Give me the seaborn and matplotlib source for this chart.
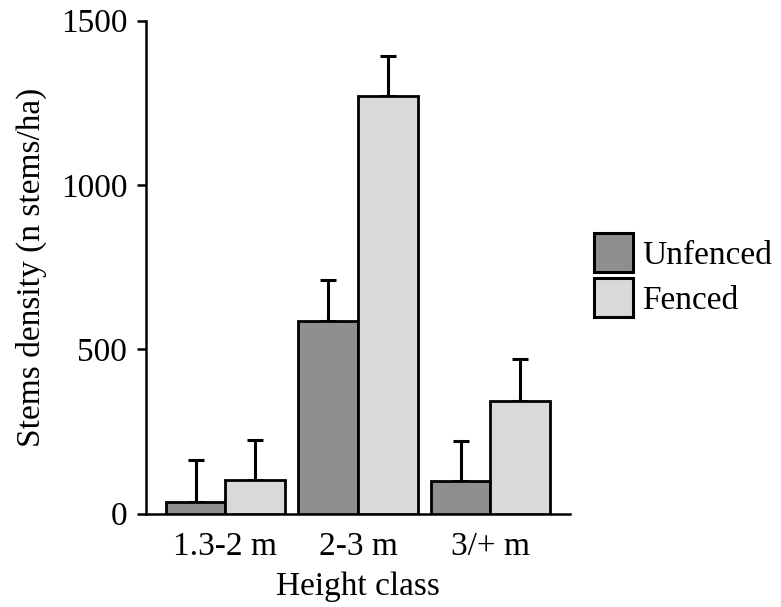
import matplotlib
matplotlib.use("Agg")
import matplotlib.pyplot as plt
import seaborn as sns
import pandas as pd
import numpy as np

categories = ["1.3-2 m", "2-3 m", "3/+ m"]
treatments = ["Unfenced", "Fenced"]
unfenced_vals = [35, 586, 100]
fenced_vals = [102, 1270, 342]
unfenced_err = [127, 124, 122]
fenced_err = [122, 124, 128]
colors = ["#8f8f8f", "#d9d9d9"]

sns.set_style("ticks")
plt.rcParams["font.family"] = ["Liberation Serif", "DejaVu Serif"]
plt.rcParams["text.color"] = "black"
plt.rcParams["axes.labelcolor"] = "black"
plt.rcParams["xtick.color"] = "black"
plt.rcParams["ytick.color"] = "black"

FS = 24

df = pd.DataFrame({
    "Height class": categories * 2,
    "Treatment": ["Unfenced"] * 3 + ["Fenced"] * 3,
    "Density": unfenced_vals + fenced_vals,
})
errs = {"Unfenced": unfenced_err, "Fenced": fenced_err}

fig = plt.figure(figsize=(7.81, 6.07), dpi=100)
ax = fig.add_axes([0.1869, 0.1537, 0.5429, 0.8122])

sns.barplot(data=df, x="Height class", y="Density", hue="Treatment",
            hue_order=treatments, order=categories, palette=colors,
            width=0.9, edgecolor="black", linewidth=2.0, saturation=1,
            errorbar=None, ax=ax, zorder=3)

for cont, t in zip(ax.containers, treatments):
    xs = [b.get_x() + b.get_width() / 2 for b in cont]
    ys = [b.get_height() for b in cont]
    e = errs[t]
    ax.errorbar(xs, ys, yerr=[np.zeros(len(e)), e], fmt="none",
                ecolor="black", elinewidth=2.2, capsize=5.8, capthick=2.2,
                zorder=2)

ax.set_ylim(0, 1500)
ax.set_xlim(-0.6, 2.6)
ax.set_yticks([0, 500, 1000, 1500])
ax.set_xlabel("Height class", fontsize=FS, labelpad=7)
ax.set_ylabel("Stems density (n stems/ha)", fontsize=FS, labelpad=10)
ax.tick_params(axis="y", labelsize=FS, length=6.5, width=1.8, pad=7, color="black")
ax.tick_params(axis="x", labelsize=FS, length=0, pad=13)
sns.despine(ax=ax)
for s in ["left", "bottom"]:
    ax.spines[s].set_linewidth(1.8)
    ax.spines[s].set_color("black")

sns.move_legend(ax, loc="upper left", bbox_to_anchor=(1.057, 0.569),
                frameon=False, title=None, fontsize=FS,
                handlelength=1.17, handleheight=1.4, labelspacing=0.2,
                handletextpad=0.27, borderpad=0, borderaxespad=0)
for h in ax.get_legend().legend_handles:
    h.set_edgecolor("black")
    h.set_linewidth(2.2)

fig.savefig("out.png", dpi=100)
